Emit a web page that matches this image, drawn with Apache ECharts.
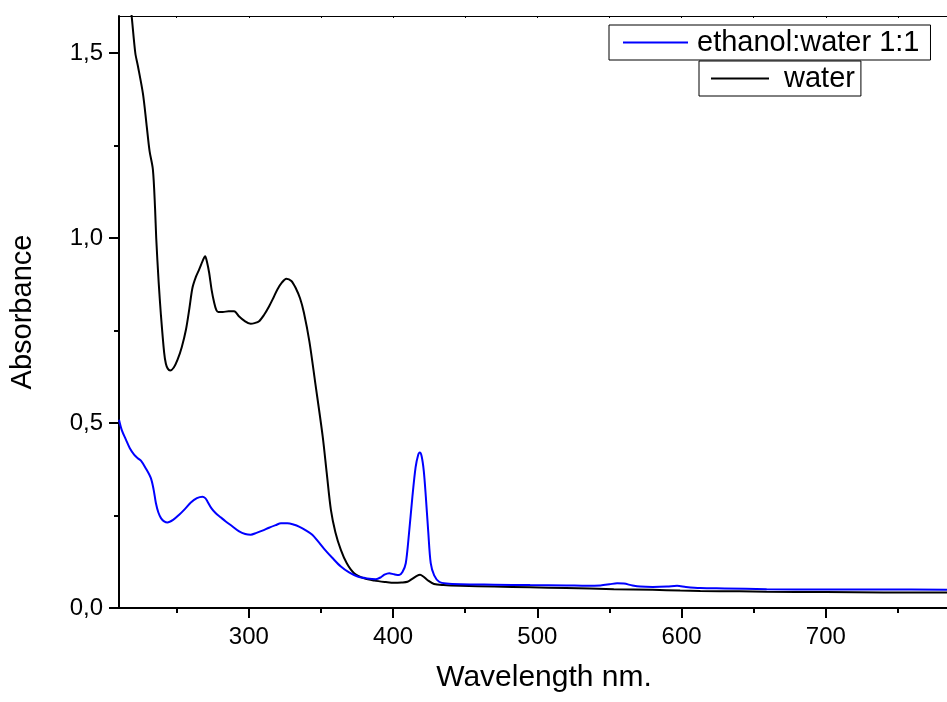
<!DOCTYPE html>
<html>
<head>
<meta charset="utf-8">
<script src="https://cdn.jsdelivr.net/npm/echarts@6/dist/echarts.min.js"></script>
<style>html,body{margin:0;padding:0;background:#fff;}#c{width:947px;height:702px;}</style>
</head>
<body>
<div id="c"></div>
<script>
const seriesNames = ['ethanol:water 1:1', 'water'];
const xMajorTicks = [300, 400, 500, 600, 700];
const xMinorTicks = [250, 350, 450, 550, 650, 750];
const yMajorTicks = [0, 0.5, 1.0, 1.5];
const yMinorTicks = [0.25, 0.75, 1.25];

const waterWl = [210,214,218.5,221.3,223.1,226.6,229,231.2,233.5,235,235.8,237.5,239.1,241.3,242.5,243.8,245.5,248,250.6,253.5,256.4,258.8,260.9,263.3,265.6,268,269.7,271,272.5,274.2,276,277.5,278.9,282,286,289.8,293.3,297,301.3,304,307.1,310.5,314,317,319.8,323,326,329.5,332.5,335.5,338.2,342,346,351.2,354,356.9,360,363.8,368,373,380,386.9,395,400.7,406,410,413,416.5,418.7,421,424,428.4,435,446.9,470,495,520,553,580,599,613,640,659,700,740,784];
const waterAbs = [1.90,1.76,1.61,1.50,1.465,1.39,1.31,1.235,1.185,1.08,1.00,0.88,0.79,0.69,0.66,0.647,0.642,0.650,0.671,0.705,0.752,0.81,0.865,0.895,0.915,0.938,0.951,0.935,0.906,0.86,0.825,0.805,0.800,0.800,0.802,0.802,0.788,0.776,0.768,0.770,0.775,0.792,0.815,0.838,0.861,0.880,0.890,0.884,0.865,0.837,0.798,0.72,0.61,0.464,0.365,0.265,0.205,0.157,0.120,0.094,0.080,0.074,0.070,0.068,0.069,0.071,0.078,0.087,0.090,0.085,0.075,0.065,0.062,0.060,0.058,0.056,0.054,0.051,0.049,0.047,0.046,0.045,0.044,0.043,0.042,0.042];

const ethWl = [210,212,214.8,217.5,220.6,223,225.2,228.5,232.1,234,235.6,237.3,239.1,241.3,243.6,247.5,251.7,255.8,259.8,264,267.9,269.8,271.3,274,277.1,280.5,284,288.5,293.3,297.5,301.3,305.3,309.4,314,318.6,322.3,326.7,331.5,334.8,339.5,344,348,352.2,358,363.8,369.5,375.4,382,388.1,391.5,394,397.3,400.7,404.2,406.5,408.8,411,413.4,415.6,417.3,418.5,419.8,421.3,422.7,424.4,426.1,428.5,431.9,437,446.9,470,495,520,534.6,543.8,550,555.3,560,566,571.4,580,590,596.9,603,613,630,659,700,740,784];
const ethAbs = [0.509,0.48,0.455,0.432,0.414,0.405,0.398,0.378,0.351,0.32,0.283,0.258,0.243,0.234,0.231,0.238,0.252,0.268,0.285,0.297,0.301,0.297,0.288,0.270,0.256,0.245,0.234,0.221,0.207,0.200,0.198,0.203,0.209,0.217,0.224,0.229,0.229,0.225,0.220,0.210,0.198,0.180,0.160,0.135,0.112,0.096,0.085,0.080,0.078,0.083,0.090,0.094,0.091,0.089,0.097,0.121,0.20,0.301,0.380,0.412,0.420,0.410,0.370,0.301,0.205,0.121,0.088,0.071,0.066,0.064,0.063,0.062,0.061,0.060,0.061,0.064,0.067,0.066,0.061,0.058,0.057,0.058,0.060,0.057,0.054,0.053,0.051,0.050,0.050,0.049];

const FONT = '"Liberation Sans", Arial, sans-serif';
const pair = (xs, ys) => xs.map((x, i) => [x, ys[i]]);

const chart = echarts.init(document.getElementById('c'));
const xBase = { type: 'value', min: 210, max: 784, splitLine: { show: false } };
const yBase = { type: 'value', min: 0, max: 1.6, splitLine: { show: false } };

chart.setOption({
  animation: false,
  backgroundColor: '#fff',
  textStyle: { fontFamily: FONT },
  grid: { left: 118, right: 0, top: 16, bottom: 94, containLabel: false },
  legend: [
    {
      data: [seriesNames[0]], left: 609, top: 25, orient: 'horizontal',
      padding: [3, 11, 3, 14], borderColor: '#000', borderWidth: 1,
      icon: 'rect', itemWidth: 65, itemHeight: 2, selectedMode: false,
      textStyle: { fontSize: 29, color: '#000', fontFamily: FONT, padding: [0, 0, 0, 4] }
    },
    {
      data: [seriesNames[1]], left: 699, top: 61, orient: 'horizontal',
      padding: [3, 6, 3, 12], borderColor: '#000', borderWidth: 1,
      icon: 'rect', itemWidth: 58, itemHeight: 2, selectedMode: false,
      textStyle: { fontSize: 29, color: '#000', fontFamily: FONT, padding: [0, 0, 0, 10] }
    }
  ],
  xAxis: [
    Object.assign({}, xBase, {
      position: 'bottom',
      name: 'Wavelength nm.', nameLocation: 'middle', nameGap: 55,
      nameTextStyle: { fontSize: 30, color: '#000', fontFamily: FONT, padding: [0, 0, 0, 22] },
      axisLine: { onZero: false, lineStyle: { color: '#000', width: 2 } },
      axisTick: { customValues: xMajorTicks, length: 10, lineStyle: { color: '#000', width: 2 } },
      axisLabel: { customValues: xMajorTicks, fontSize: 24, color: '#000', margin: 17, fontFamily: FONT }
    }),
    Object.assign({}, xBase, {
      position: 'bottom',
      axisLine: { show: false, onZero: false },
      axisTick: { customValues: xMinorTicks, length: 5, lineStyle: { color: '#000', width: 2 } },
      axisLabel: { show: false }
    }),
    Object.assign({}, xBase, {
      position: 'top',
      axisLine: { onZero: false, lineStyle: { color: '#000', width: 1 } },
      axisTick: { customValues: xMinorTicks.concat(xMajorTicks), inside: true, length: 2, lineStyle: { color: '#000', width: 1 } },
      axisLabel: { show: false }
    })
  ],
  yAxis: [
    Object.assign({}, yBase, {
      position: 'left',
      name: 'Absorbance', nameLocation: 'middle', nameGap: 82,
      nameTextStyle: { fontSize: 29, color: '#000', fontFamily: FONT },
      axisLine: { onZero: false, lineStyle: { color: '#000', width: 2 } },
      axisTick: { customValues: yMajorTicks, length: 10, lineStyle: { color: '#000', width: 2 } },
      axisLabel: { customValues: yMajorTicks, fontSize: 24, color: '#000', margin: 16, fontFamily: FONT,
        formatter: v => v.toFixed(1).replace('.', ',') }
    }),
    Object.assign({}, yBase, {
      position: 'left',
      axisLine: { show: false, onZero: false },
      axisTick: { customValues: yMinorTicks, length: 5, lineStyle: { color: '#000', width: 2 } },
      axisLabel: { show: false }
    })
  ],
  series: [
    {
      name: seriesNames[0], type: 'line', xAxisIndex: 0, yAxisIndex: 0,
      data: pair(ethWl, ethAbs), showSymbol: false, symbol: 'none', smooth: 0.3, clip: true,
      lineStyle: { color: '#0000ff', width: 2 }, itemStyle: { color: '#0000ff' }, z: 3
    },
    {
      name: seriesNames[1], type: 'line', xAxisIndex: 0, yAxisIndex: 0,
      data: pair(waterWl, waterAbs), showSymbol: false, symbol: 'none', smooth: 0.3, clip: true,
      lineStyle: { color: '#000000', width: 2 }, itemStyle: { color: '#000000' }, z: 2
    }
  ]
});
</script>
</body>
</html>
